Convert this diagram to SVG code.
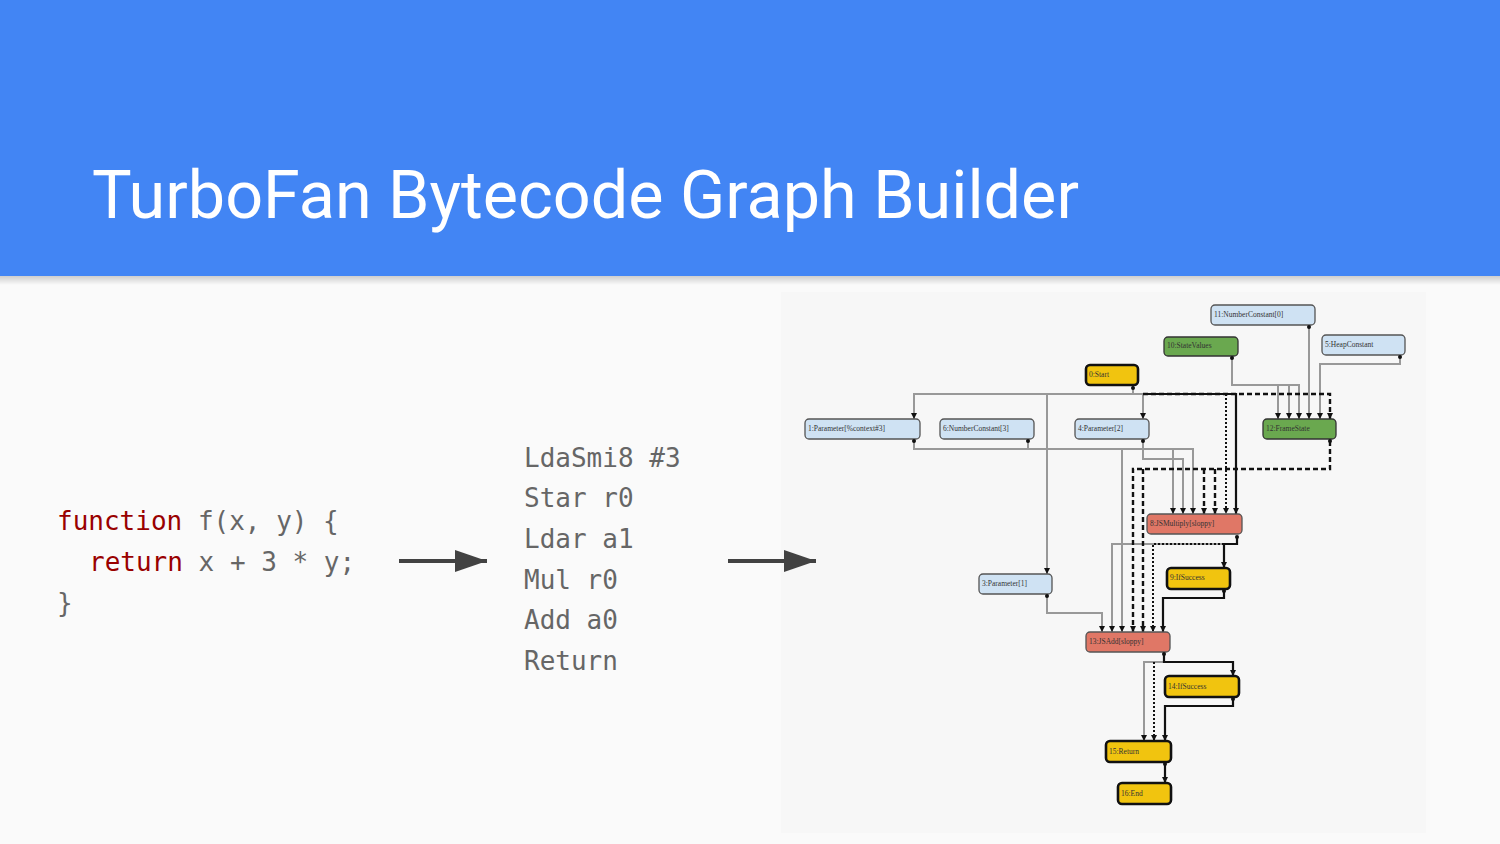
<svg xmlns="http://www.w3.org/2000/svg" width="1500" height="844" viewBox="0 0 1500 844">
<defs>
<linearGradient id="shadow" x1="0" y1="0" x2="0" y2="1">
<stop offset="0" stop-color="#000" stop-opacity="0.18"/>
<stop offset="1" stop-color="#000" stop-opacity="0"/>
</linearGradient>
<marker id="ah" viewBox="0 0 6 6" refX="6" refY="3" markerWidth="6" markerHeight="6" markerUnits="userSpaceOnUse" orient="auto">
<path d="M0,0 L6,3 L0,6 Z" fill="#111"/>
</marker>
<marker id="big" viewBox="0 0 32 22" refX="32" refY="11" markerWidth="32" markerHeight="22" markerUnits="userSpaceOnUse" orient="auto">
<path d="M0,0 L32,11 L0,22 Z" fill="#424242"/>
</marker>
</defs>
<style>
.title{font-family:Roboto,"Liberation Sans",sans-serif;font-size:66.5px;fill:#fff}
.code{font-family:"DejaVu Sans Mono","Liberation Mono",monospace;font-size:26px;fill:#666}
.kw{fill:#990000}
.node rect{stroke-width:1.3}
.blue{fill:#cfe2f3;stroke:#555}
.green{fill:#6aa84f;stroke:#333}
.yellow{fill:#f1c40f;stroke:#111;stroke-width:2.6!important}
.red{fill:#e07766;stroke:#555}
.lbl{font-family:"Liberation Serif",serif;font-size:7.5px;fill:#333}
.g{fill:none;stroke:#999;stroke-width:2}
.b{fill:none;stroke:#111;stroke-width:2.2}
.d{fill:none;stroke:#111;stroke-width:2.4;stroke-dasharray:5 3}
.o{fill:none;stroke:#111;stroke-width:2;stroke-dasharray:2 2}
.port{fill:#111}
.bigarrow{stroke:#424242;stroke-width:4;fill:none}
</style>
<rect width="1500" height="844" fill="#fafafa"/>
<rect x="781" y="292" width="645" height="541" fill="#f7f7f7"/>
<rect width="1500" height="276" fill="#4285f4"/>
<rect y="276" width="1500" height="9" fill="url(#shadow)"/>
<text class="title" x="92" y="218">TurboFan Bytecode Graph Builder</text>

<g id="source-code">
<text class="code" x="57" y="530"><tspan class="kw">function</tspan> f(x, y) {</text>
<text class="code" x="89" y="571"><tspan class="kw">return</tspan> x + 3 * y;</text>
<text class="code" x="57" y="612">}</text>
</g>
<g id="bytecode">
<text class="code" x="524" y="467">LdaSmi8 #3</text>
<text class="code" x="524" y="507">Star r0</text>
<text class="code" x="524" y="548">Ldar a1</text>
<text class="code" x="524" y="589">Mul r0</text>
<text class="code" x="524" y="629">Add a0</text>
<text class="code" x="524" y="670">Return</text>
</g>
<g id="arrows">
<line class="bigarrow" x1="399" y1="561" x2="487" y2="561" marker-end="url(#big)"/>
<line class="bigarrow" x1="728" y1="561" x2="816" y2="561" marker-end="url(#big)"/>
</g>

<g id="connectors">
<!-- gray value edges -->
<path class="g" d="M1133,386 V394 H914 V419" marker-end="url(#ah)"/>
<path class="g" d="M1133,394 H1143 V419" marker-end="url(#ah)"/>
<path class="g" d="M1047,394 V574" marker-end="url(#ah)"/>
<path class="g" d="M914,441 V449 H1173 V514" marker-end="url(#ah)"/>
<path class="g" d="M1028,441 V449 H1193 V514" marker-end="url(#ah)"/>
<path class="g" d="M1122,449 V632" marker-end="url(#ah)"/>
<path class="g" d="M1143,441 V459 H1183 V514" marker-end="url(#ah)"/>
<path class="g" d="M1232,358 V385 H1278 V419" marker-end="url(#ah)"/>
<path class="g" d="M1278,385 H1289 V419" marker-end="url(#ah)"/>
<path class="g" d="M1289,385 H1299 V419" marker-end="url(#ah)"/>
<path class="g" d="M1309,327 V419" marker-end="url(#ah)"/>
<path class="g" d="M1400,357 V364 H1320 V419" marker-end="url(#ah)"/>
<path class="g" d="M1047,596 V613 H1102 V632" marker-end="url(#ah)"/>
<path class="g" d="M1237,544 H1112 V632" marker-end="url(#ah)"/>
<path class="g" d="M1164,662 H1144 V741" marker-end="url(#ah)"/>
<!-- dashed edges -->
<path class="d" d="M1143,394 H1330 V419" marker-end="url(#ah)"/>
<path class="d" d="M1330,441 V469 H1133 V632" marker-end="url(#ah)"/>
<path class="d" d="M1143,469 V632" marker-end="url(#ah)"/>
<path class="d" d="M1204,469 V514" marker-end="url(#ah)"/>
<path class="d" d="M1215,469 V514" marker-end="url(#ah)"/>
<!-- dotted edges -->
<path class="o" d="M1226,394 V514" marker-end="url(#ah)"/>
<path class="o" d="M1224,544 H1153 V632" marker-end="url(#ah)"/>
<path class="o" d="M1154,662 V741" marker-end="url(#ah)"/>
<!-- solid black control edges -->
<path class="b" d="M1143,394 H1236 V514" marker-end="url(#ah)"/>
<path class="b" d="M1237,537 V544 H1224 V568" marker-end="url(#ah)"/>
<path class="b" d="M1224,591 V598 H1163 V632" marker-end="url(#ah)"/>
<path class="b" d="M1164,654 V662 H1233 V676" marker-end="url(#ah)"/>
<path class="b" d="M1233,699 V706 H1165 V741" marker-end="url(#ah)"/>
<path class="b" d="M1165,764 V783" marker-end="url(#ah)"/>
</g>

<g id="n11" class="node"><rect class="blue" x="1211" y="305" width="104" height="20" rx="4"/><text class="lbl" x="1214" y="317">11:NumberConstant[0]</text><circle class="port" cx="1309" cy="327" r="2"/></g>
<g id="n10" class="node"><rect class="green" x="1164" y="337" width="74" height="19" rx="4"/><text class="lbl" x="1167" y="348">10:StateValues</text><circle class="port" cx="1232" cy="358" r="2"/></g>
<g id="n5" class="node"><rect class="blue" x="1322" y="335" width="83" height="20" rx="4"/><text class="lbl" x="1325" y="347">5:HeapConstant</text><circle class="port" cx="1400" cy="357" r="2"/></g>
<g id="n0" class="node"><rect class="yellow" x="1086" y="365" width="52" height="20" rx="4"/><text class="lbl" x="1089" y="377">0:Start</text><circle class="port" cx="1133" cy="388" r="2"/></g>
<g id="n1" class="node"><rect class="blue" x="805" y="419" width="115" height="20" rx="4"/><text class="lbl" x="808" y="431">1:Parameter[%context#3]</text><circle class="port" cx="914" cy="441" r="2"/></g>
<g id="n6" class="node"><rect class="blue" x="940" y="419" width="94" height="20" rx="4"/><text class="lbl" x="943" y="431">6:NumberConstant[3]</text><circle class="port" cx="1028" cy="441" r="2"/></g>
<g id="n4" class="node"><rect class="blue" x="1075" y="419" width="74" height="20" rx="4"/><text class="lbl" x="1078" y="431">4:Parameter[2]</text><circle class="port" cx="1143" cy="441" r="2"/></g>
<g id="n12" class="node"><rect class="green" x="1263" y="419" width="73" height="20" rx="4"/><text class="lbl" x="1266" y="431">12:FrameState</text><circle class="port" cx="1330" cy="441" r="2"/></g>
<g id="n8" class="node"><rect class="red" x="1147" y="514" width="95" height="20" rx="4"/><text class="lbl" x="1150" y="526">8:JSMultiply[sloppy]</text><circle class="port" cx="1237" cy="537" r="2"/></g>
<g id="n9" class="node"><rect class="yellow" x="1167" y="568" width="63" height="21" rx="4"/><text class="lbl" x="1170" y="580">9:IfSuccess</text><circle class="port" cx="1224" cy="591" r="2"/></g>
<g id="n3" class="node"><rect class="blue" x="979" y="574" width="73" height="20" rx="4"/><text class="lbl" x="982" y="586">3:Parameter[1]</text><circle class="port" cx="1047" cy="596" r="2"/></g>
<g id="n13" class="node"><rect class="red" x="1086" y="632" width="84" height="20" rx="4"/><text class="lbl" x="1089" y="644">13:JSAdd[sloppy]</text><circle class="port" cx="1164" cy="654" r="2"/></g>
<g id="n14" class="node"><rect class="yellow" x="1165" y="676" width="74" height="21" rx="4"/><text class="lbl" x="1168" y="689">14:IfSuccess</text><circle class="port" cx="1233" cy="699" r="2"/></g>
<g id="n15" class="node"><rect class="yellow" x="1106" y="741" width="65" height="21" rx="4"/><text class="lbl" x="1109" y="754">15:Return</text><circle class="port" cx="1165" cy="764" r="2"/></g>
<g id="n16" class="node"><rect class="yellow" x="1118" y="783" width="53" height="21" rx="4"/><text class="lbl" x="1121" y="796">16:End</text></g>
</svg>
